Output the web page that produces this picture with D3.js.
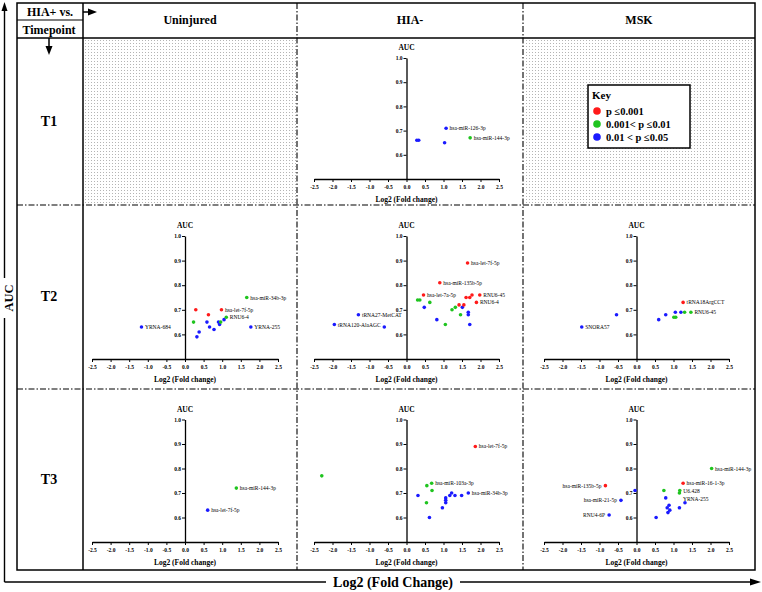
<!DOCTYPE html>
<html>
<head>
<meta charset="utf-8">
<script src="https://cdn.jsdelivr.net/npm/d3@7"></script>
<style>
  body { margin: 0; background: #fff; }
  svg text { font-family: "Liberation Serif", "Times New Roman", serif; }
</style>
</head>
<body>
<div id="chart"></div>
<script>
// Headings and ticks
const columns = ['Uninjured', 'HIA-', 'MSK'];
const timepoints = ['T1', 'T2', 'T3'];
const xTicks = [-2.5, -2.0, -1.5, -1.0, -0.5, 0.0, 0.5, 1.0, 1.5, 2.0, 2.5];
const yTicks = [0.6, 0.7, 0.8, 0.9, 1.0];
const keyLabels = ['p \u22640.001', '0.001< p \u22640.01', '0.01 < p \u22640.05'];
const sigColors = ['#ff1a1a', '#1fc41f', '#1a1aff'];

// Points: [log2 fold change, AUC, significance level (0 red, 1 green, 2 blue), label]
const t1Hia = [
    [0.28, 0.66, 2], [0.33, 0.66, 2], [1.03, 0.65, 2],
    [1.07, 0.71, 2, 'hsa-miR-126-3p'], [1.72, 0.67, 1, 'hsa-miR-144-3p']
];
const t2Uninjured = [
    [-1.17, 0.63, 2, 'YRNA-684'], [0.29, 0.70, 0], [0.23, 0.65, 1], [0.32, 0.59, 2],
    [0.38, 0.61, 2], [0.63, 0.68, 0], [0.59, 0.65, 2], [0.66, 0.63, 2], [0.78, 0.62, 2],
    [0.90, 0.65, 2], [0.93, 0.64, 2], [0.96, 0.65, 1], [0.98, 0.70, 0, 'hsa-let-7f-5p'],
    [1.05, 0.66, 2], [1.11, 0.67, 1, 'RNU6-4'], [1.66, 0.75, 1, 'hsa-miR-34b-3p'],
    [1.77, 0.63, 2, 'YRNA-255']
];
const t2Hia = [
    [-1.95, 0.64, 2, 'tRNA120-AlaAGC'], [-1.30, 0.68, 2, 'tRNA27-MetCAT'], [-0.60, 0.63, 2],
    [0.30, 0.74, 1], [0.36, 0.74, 1], [0.46, 0.76, 0, 'hsa-let-7a-5p'], [0.48, 0.71, 2],
    [0.63, 0.73, 1], [0.82, 0.66, 2], [0.90, 0.81, 0, 'hsa-miR-135b-5p'], [1.05, 0.64, 1],
    [1.23, 0.70, 1], [1.32, 0.71, 1], [1.42, 0.72, 0], [1.46, 0.68, 1], [1.51, 0.71, 2],
    [1.55, 0.72, 0], [1.61, 0.75, 0], [1.65, 0.89, 0, 'hsa-let-7f-5p'], [1.71, 0.75, 0],
    [1.77, 0.76, 0], [1.67, 0.69, 2], [1.67, 0.68, 2], [1.71, 0.64, 2],
    [1.98, 0.76, 0, 'RNU6-45'], [1.89, 0.73, 0, 'RNU6-4']
];
const t2Msk = [
    [-1.48, 0.63, 2, 'SNORA57'], [-0.54, 0.68, 2], [0.60, 0.66, 2], [0.79, 0.68, 2],
    [1.01, 0.67, 1], [1.06, 0.67, 1], [1.05, 0.69, 2], [1.20, 0.69, 2], [1.30, 0.69, 1],
    [1.47, 0.69, 1, 'RNU6-45'], [1.26, 0.73, 0, 'tRNA18ArgCCT']
];
const t3Uninjured = [
    [1.38, 0.72, 1, 'hsa-miR-144-3p'], [0.61, 0.63, 2, 'hsa-let-7f-5p']
];
const t3Hia = [
    [-2.29, 0.77, 1], [0.31, 0.69, 2], [0.55, 0.73, 1], [0.68, 0.74, 1, 'hsa-miR-103a-3p'],
    [0.69, 0.71, 1], [0.54, 0.66, 1], [0.62, 0.60, 2], [0.97, 0.64, 2], [1.06, 0.68, 2],
    [1.06, 0.67, 2], [1.06, 0.66, 2], [1.17, 0.69, 2], [1.22, 0.70, 2], [1.31, 0.69, 2],
    [1.49, 0.69, 2], [1.67, 0.70, 2, 'hsa-miR-34b-3p'], [1.86, 0.89, 0, 'hsa-let-7f-5p']
];
const t3Msk = [
    [-0.84, 0.73, 0, 'hsa-miR-135b-5p'], [-0.04, 0.71, 2], [-0.42, 0.67, 2, 'hsa-miR-21-5p'],
    [-0.74, 0.61, 2, 'RNU4-6P'], [0.53, 0.60, 2], [0.74, 0.71, 1], [0.79, 0.68, 2],
    [0.83, 0.64, 2], [0.85, 0.62, 2], [0.88, 0.65, 2], [0.90, 0.63, 2], [1.16, 0.64, 2],
    [1.16, 0.70, 1, 'YRNA-255'], [1.17, 0.71, 1, 'U6.428'], [1.26, 0.74, 0, 'hsa-miR-16-1-3p'],
    [1.31, 0.66, 2], [2.03, 0.80, 1, 'hsa-miR-144-3p']
];

// Which panel goes where (row = timepoint, col = comparison)
const panels = [
    { row: 0, col: 1, data: t1Hia },
    { row: 1, col: 0, data: t2Uninjured },
    { row: 1, col: 1, data: t2Hia },
    { row: 1, col: 2, data: t2Msk },
    { row: 2, col: 0, data: t3Uninjured },
    { row: 2, col: 1, data: t3Hia },
    { row: 2, col: 2, data: t3Msk }
];

const W = 762, H = 592;
const box = { left: 17, top: 3, right: 755, bottom: 570 };
const headerBottom = 38;
const firstCol = 83;
const colEdges = [firstCol, 297, 523, box.right];
const rowEdges = [headerBottom, 205, 389, box.bottom];

// Plot area of each mini chart (x range by column, y range by row)
const colRanges = [[92, 278], [314, 499], [544, 729]];
const rowRanges = [[179, 58], [359, 236], [542, 419.5]];

const svg = d3.select('#chart')
    .append('svg')
    .attr('width', W)
    .attr('height', H);

// Stipple pattern for empty cells
const defs = svg.append('defs');
const pat = defs.append('pattern')
    .attr('id', 'stipple')
    .attr('patternUnits', 'userSpaceOnUse')
    .attr('width', 3)
    .attr('height', 3);
pat.append('rect')
    .attr('x', 1).attr('y', 1)
    .attr('width', 0.8).attr('height', 0.8)
    .attr('fill', '#8a8a8a');

[0, 2].forEach((c) => {
    svg.append('rect')
        .attr('x', colEdges[c] + 1)
        .attr('y', rowEdges[0] + 1)
        .attr('width', colEdges[c + 1] - colEdges[c] - 2)
        .attr('height', rowEdges[1] - rowEdges[0] - 2)
        .attr('fill', 'url(#stipple)');
});

// Table frame
svg.append('rect')
    .attr('x', box.left).attr('y', box.top)
    .attr('width', box.right - box.left)
    .attr('height', box.bottom - box.top)
    .attr('fill', 'none')
    .attr('stroke', '#000')
    .attr('stroke-width', 1.5);

const solid = (x1, y1, x2, y2, w) => svg.append('line')
    .attr('x1', x1).attr('y1', y1).attr('x2', x2).attr('y2', y2)
    .attr('stroke', '#000').attr('stroke-width', w || 1.5);

solid(box.left, headerBottom, box.right, headerBottom);
solid(firstCol, box.top, firstCol, box.bottom);
solid(box.left, 20, firstCol, 20, 1.2);

const dashDot = '6,2,1.5,2';
[colEdges[1], colEdges[2]].forEach((x) => {
    solid(x, box.top, x, box.bottom, 1.1).attr('stroke-dasharray', dashDot);
});
[rowEdges[1], rowEdges[2]].forEach((y) => {
    solid(box.left, y, box.right, y, 1.1).attr('stroke-dasharray', dashDot);
});

// Header texts
svg.append('text')
    .attr('x', 50).attr('y', 15.5)
    .attr('text-anchor', 'middle')
    .style('font-size', '12px').style('font-weight', 'bold')
    .text('HIA+ vs.');
svg.append('text')
    .attr('x', 49).attr('y', 33.5)
    .attr('text-anchor', 'middle')
    .style('font-size', '12px').style('font-weight', 'bold')
    .text('Timepoint');

// little header arrows
solid(firstCol, 12, 90, 12, 1.5);
svg.append('path').attr('d', 'M88,8.5 L97,12 L88,15.5 Z').attr('fill', '#000');
solid(49, headerBottom, 49, 48, 1.5);
svg.append('path').attr('d', 'M45.5,46 L49,55 L52.5,46 Z').attr('fill', '#000');

columns.forEach((c, i) => {
    svg.append('text')
        .attr('x', (colEdges[i] + colEdges[i + 1]) / 2)
        .attr('y', 24)
        .attr('text-anchor', 'middle')
        .style('font-size', '12px').style('font-weight', 'bold')
        .text(c);
});

timepoints.forEach((t, i) => {
    svg.append('text')
        .attr('x', 49)
        .attr('y', (rowEdges[i] + rowEdges[i + 1]) / 2 + 4)
        .attr('text-anchor', 'middle')
        .style('font-size', '14px').style('font-weight', 'bold')
        .text(t);
});

// Big outer axes (arrows)
solid(4.5, 582, 4.5, 9, 1.4);
svg.append('path').attr('d', 'M1.5,11 L4.5,2 L7.5,11 Z').attr('fill', '#000');
solid(4.5, 582, 752, 582, 1.4);
svg.append('path').attr('d', 'M750,578.5 L761,582 L750,585.5 Z').attr('fill', '#000');

svg.append('rect')
    .attr('x', 0).attr('y', 278).attr('width', 15).attr('height', 40)
    .attr('fill', '#fff');
svg.append('text')
    .attr('transform', 'translate(13,298) rotate(-90)')
    .attr('text-anchor', 'middle')
    .style('font-size', '12.5px').style('font-weight', 'bold')
    .text('AUC');

svg.append('rect')
    .attr('x', 326).attr('y', 574).attr('width', 134).attr('height', 16)
    .attr('fill', '#fff');
svg.append('text')
    .attr('x', 393).attr('y', 587)
    .attr('text-anchor', 'middle')
    .style('font-size', '14px').style('font-weight', 'bold')
    .text('Log2 (Fold Change)');

// Mini scatter charts
const fmt = (d) => d.toFixed(1);

panels.forEach((p) => {
    const x = d3.scaleLinear().domain([-2.5, 2.5]).range(colRanges[p.col]);
    const y = d3.scaleLinear().domain([0.5, 1.0]).range(rowRanges[p.row]);
    const g = svg.append('g').attr('class', 'panel');

    const xAxis = g.append('g')
        .attr('transform', `translate(0,${y(0.5)})`)
        .call(d3.axisBottom(x).tickValues(xTicks).tickFormat(fmt).tickSize(3).tickSizeOuter(0));

    const yAxis = g.append('g')
        .attr('transform', `translate(${x(0)},0)`)
        .call(d3.axisLeft(y).tickValues(yTicks).tickFormat(fmt).tickSize(3).tickSizeOuter(0));

    [xAxis, yAxis].forEach((a) => {
        a.select('.domain').attr('stroke-width', 1.3);
        a.selectAll('.tick line').attr('stroke-width', 1);
        a.selectAll('.tick text')
            .style('font-family', '"Liberation Serif", serif')
            .style('font-size', '5.5px')
            .style('font-weight', 'bold');
    });
    xAxis.selectAll('.tick text').attr('y', 6);
    yAxis.selectAll('.tick text').attr('x', -4);

    g.append('text')
        .attr('x', x(0))
        .attr('y', y(1.0) - 8)
        .attr('text-anchor', 'middle')
        .style('font-size', '7.5px').style('font-weight', 'bold')
        .text('AUC');

    g.append('text')
        .attr('x', x(0))
        .attr('y', y(0.5) + 23)
        .attr('text-anchor', 'middle')
        .style('font-size', '7.5px').style('font-weight', 'bold')
        .text('Log2 (Fold change)');

    g.selectAll('.dot')
        .data(p.data)
        .enter()
        .append('circle')
        .attr('class', 'dot')
        .attr('cx', (d) => x(d[0]))
        .attr('cy', (d) => y(d[1]))
        .attr('r', 1.8)
        .attr('fill', (d) => sigColors[d[2]]);

    // labels: left of the dot when the point is left of zero in MSK T3
    g.selectAll('.lbl')
        .data(p.data.filter((d) => d[3]))
        .enter()
        .append('text')
        .attr('class', 'lbl')
        .attr('x', (d) => x(d[0]) + (d[0] < 0 && p.col === 2 && p.row === 2 ? -4 : 3.5))
        .attr('y', (d) => y(d[1]) + 2 + (d[3] === 'YRNA-255' && p.col === 2 ? 6 : 0))
        .attr('text-anchor', (d) => (d[0] < 0 && p.col === 2 && p.row === 2 ? 'end' : 'start'))
        .style('font-size', '5.5px')
        .text((d) => d[3]);
});

// Key
const key = svg.append('g').attr('transform', 'translate(588,85)');
key.append('rect')
    .attr('width', 102).attr('height', 63)
    .attr('fill', '#fff')
    .attr('stroke', '#000')
    .attr('stroke-width', 1.5);
key.append('text')
    .attr('x', 4).attr('y', 14)
    .style('font-size', '11px').style('font-weight', 'bold')
    .text('Key');
keyLabels.forEach((k, i) => {
    key.append('circle')
        .attr('cx', 9).attr('cy', 26 + i * 13)
        .attr('r', 3.8)
        .attr('fill', sigColors[i]);
    key.append('text')
        .attr('x', 18).attr('y', 30 + i * 13)
        .style('font-size', '10.5px').style('font-weight', 'bold')
        .text(k);
});
</script>
</body>
</html>
